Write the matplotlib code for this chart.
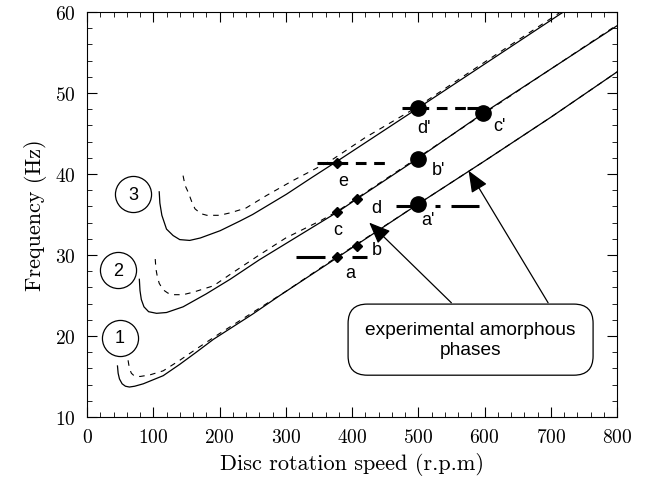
import matplotlib.pyplot as plt
import numpy as np
from matplotlib.ticker import MultipleLocator

plt.rcParams['font.family'] = 'cmr10'
plt.rcParams['axes.formatter.use_mathtext'] = True

# mode curves (rpm, Hz)
m1_rpm = [46, 47, 49, 53, 58, 64, 72, 85, 100, 115, 140, 165, 191, 250, 291, 367, 500, 600, 700, 800]
m1_hz = [16.3, 15.4, 14.7, 14.1, 13.8, 13.7, 13.8, 14.1, 14.6, 15.1, 16.5, 18.0, 19.6, 22.7, 25.0, 29.1, 36.3, 41.6, 47.0, 52.6]
m1d_rpm = [62, 64, 67, 71, 80, 95, 115, 140, 165, 200, 250, 300, 367, 500, 600, 700, 800]
m1d_hz = [17.0, 16.0, 15.4, 15.1, 15.0, 15.2, 15.7, 17.0, 18.4, 20.3, 22.9, 25.5, 29.2, 36.3, 41.6, 47.0, 52.6]

m2_rpm = [79, 80, 82, 86, 93, 105, 120, 145, 180, 216, 260, 300, 340, 378, 407, 499, 598, 800]
m2_hz = [27.0, 25.6, 24.5, 23.6, 23.0, 22.8, 22.9, 23.6, 25.2, 27.0, 29.4, 31.4, 33.4, 35.3, 36.9, 41.9, 47.5, 58.3]
m2d_rpm = [103, 104, 106, 109, 115, 122, 130, 145, 160, 191, 216, 260, 300, 354, 378, 420, 800]
m2d_hz = [29.5, 28.3, 27.4, 26.5, 25.7, 25.3, 25.1, 25.1, 25.4, 26.2, 27.6, 30.0, 32.1, 34.3, 35.4, 37.7, 58.4]

m3_rpm = [109, 110, 113, 120, 130, 140, 155, 171, 201, 231, 250, 301, 340, 378, 499, 719]
m3_hz = [37.8, 36.4, 34.9, 33.2, 32.4, 31.9, 31.8, 32.1, 33.0, 34.2, 35.0, 37.5, 39.6, 41.6, 48.1, 60.0]
m3d_rpm = [145, 148, 153, 158, 163, 172, 181, 200, 216, 240, 270, 311, 367, 420, 499, 600, 715]
m3d_hz = [39.8, 38.6, 37.7, 36.6, 35.7, 35.1, 34.9, 34.9, 35.2, 35.8, 37.3, 39.2, 41.6, 44.5, 48.3, 53.8, 60.0]

# experimental amorphous phases
dia_lab = ['a', 'b', 'c', 'd', 'e']
dia_rpm = [377, 408, 377, 407, 378]
dia_hz = [29.7, 31.1, 35.3, 36.9, 41.4]
dia_txt_rpm = [397, 437, 379, 436, 387]
dia_txt_hz = [27.9, 30.7, 33.2, 35.9, 39.2]

dot_lab = ["a'", "b'", "c'", "d'"]
dot_rpm = [500, 499, 598, 499]
dot_hz = [36.3, 41.9, 47.5, 48.1]
dot_txt_rpm = [515, 530, 623, 508]
dot_txt_hz = [34.4, 40.6, 46.0, 45.8]

# horizontal range bars: level, solid pieces, dashed pieces
bar_hz = [29.7, 36.1, 41.4, 48.1]
bar_solid = [[(316, 359), (400, 422)], [(467, 500), (525, 533), (550, 591)], [(347, 378)], [(475, 499), (573, 598)]]
bar_dash = [[], [], [(378, 450)], [(499, 573)]]

mode_lab = ['1', '2', '3']
mode_rpm = [50, 47, 70]
mode_hz = [19.8, 28.1, 37.5]

fig = plt.figure(figsize=(6.47, 4.89), dpi=100)
ax = fig.add_axes([87/647, 1-418/489, 530/647, 405/489])

for r, f in [(m1_rpm, m1_hz), (m2_rpm, m2_hz), (m3_rpm, m3_hz)]:
    ax.plot(r, f, color='k', lw=0.9)
for r, f in [(m1d_rpm, m1d_hz), (m2d_rpm, m2d_hz), (m3d_rpm, m3d_hz)]:
    ax.plot(r, f, color='k', lw=0.8, ls=(0, (5, 5)))

for y, sol, das in zip(bar_hz, bar_solid, bar_dash):
    for x0, x1 in sol:
        ax.plot([x0, x1], [y, y], color='k', lw=2.2, solid_capstyle='butt')
    for x0, x1 in das:
        ax.plot([x0, x1], [y, y], color='k', lw=2.2, ls=(0, (3.5, 2.5)), dash_capstyle='butt')

ax.plot(dia_rpm, dia_hz, 'D', color='k', ms=5.5, ls='none')
ax.plot(dot_rpm, dot_hz, 'o', color='k', ms=11, ls='none')
for t, x, y in zip(dia_lab + dot_lab, dia_txt_rpm + dot_txt_rpm, dia_txt_hz + dot_txt_hz):
    ax.text(x, y, t, family='Liberation Sans', fontsize=13, ha='center', va='center')

ax.plot(mode_rpm, mode_hz, 'o', ms=26, mfc='none', mec='k', mew=0.9, ls='none')
for t, x, y in zip(mode_lab, mode_rpm, mode_hz):
    ax.text(x, y, t, family='Liberation Sans', fontsize=13, ha='center', va='center')

# callout box with two arrows
ax.text(579, 19.55, 'experimental amorphous\nphases', family='Liberation Sans', fontsize=13.8,
        ha='center', va='center', linespacing=1.2,
        bbox=dict(boxstyle='round,pad=0.9,rounding_size=1.0', fc='white', ec='k', lw=0.9))
ax.annotate('', xy=(426, 34.0), xytext=(550, 24.1),
            arrowprops=dict(arrowstyle='-|>,head_length=0.6,head_width=0.25', mutation_scale=22,
                            color='k', lw=0.9, shrinkA=0, shrinkB=0))
ax.annotate('', xy=(576, 40.4), xytext=(696, 24.1),
            arrowprops=dict(arrowstyle='-|>,head_length=0.6,head_width=0.25', mutation_scale=22,
                            color='k', lw=0.9, shrinkA=0, shrinkB=0))

ax.set_xlim(0, 800)
ax.set_ylim(10, 60)
ax.xaxis.set_major_locator(MultipleLocator(100))
ax.xaxis.set_minor_locator(MultipleLocator(20))
ax.yaxis.set_major_locator(MultipleLocator(10))
ax.yaxis.set_minor_locator(MultipleLocator(2))
ax.tick_params(which='both', direction='in', top=True, right=True, labelsize=14, pad=8)
ax.tick_params(which='major', length=7)
ax.tick_params(which='minor', length=3.5)
ax.set_xlabel('Disc rotation speed (r.p.m)', fontsize=16, labelpad=4)
ax.set_ylabel('Frequency (Hz)', fontsize=16, labelpad=6)

plt.savefig('out.png', dpi=100)
